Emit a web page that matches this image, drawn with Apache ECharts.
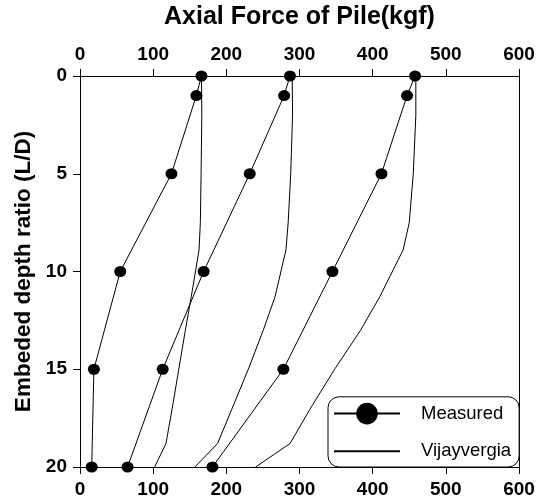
<!DOCTYPE html>
<html>
<head>
<meta charset="utf-8">
<script src="https://cdn.jsdelivr.net/npm/echarts@6/dist/echarts.min.js"></script>
<style>
  html, body { margin: 0; padding: 0; background: #fff; }
  #chart { width: 539px; height: 503px; }
</style>
</head>
<body>
<div id="chart"></div>
<script>
// ---- data ----
const xTicks = [0, 100, 200, 300, 400, 500, 600];
const yTicks = [0, 5, 10, 15, 20];
const measuredDepth = [0, 1, 5, 10, 15, 20];
const measured1 = [166, 159, 125, 55, 19, 16];
const measured2 = [287, 279, 232, 169, 113, 65];
const measured3 = [458, 447, 412, 345, 278, 181];

const vijayDepth = [0, 2, 5, 7.5, 8.9, 11.3, 13, 15, 17, 18.8, 20];
const vijay1 = [166, 166.5, 165.5, 164.5, 162.7, 152, 144, 135, 126, 117.5, 102];
const vijay2 = [290, 290.5, 288, 284.5, 281.5, 266.5, 250.5, 230, 208, 188, 157];
const vijay3 = [459, 459, 455.5, 450, 441.6, 409.6, 383.5, 348, 315, 287, 240];

const seriesNames = ['Measured', 'Vijayvergia'];
const xTitle = 'Axial Force of Pile(kgf)';
const yTitle = 'Embeded depth ratio (L/D)';

// ---- chart ----
const FONT = '"Liberation Sans", Arial, sans-serif';
const pair = (xs, ys) => xs.map((x, i) => [x, ys[i]]);

function measuredSeries(vals) {
  return {
    name: seriesNames[0], type: 'line', xAxisIndex: 0, yAxisIndex: 0,
    data: pair(vals, measuredDepth),
    symbol: 'circle', symbolSize: [12, 11], showSymbol: true,
    itemStyle: { color: '#000' },
    lineStyle: { color: '#000', width: 1 },
    emphasis: { disabled: true }, animation: false, z: 3
  };
}
function vijaySeries(vals) {
  return {
    name: seriesNames[1], type: 'line', xAxisIndex: 0, yAxisIndex: 0,
    data: pair(vals, vijayDepth),
    symbol: 'circle', showSymbol: false,
    itemStyle: { color: 'rgba(0,0,0,0)' },
    lineStyle: { color: '#000', width: 1 },
    emphasis: { disabled: true }, animation: false, z: 2
  };
}

const xMin = xTicks[0], xMax = xTicks[xTicks.length - 1], xInt = xTicks[1] - xTicks[0];
const yMin = yTicks[0], yMax = yTicks[yTicks.length - 1], yInt = yTicks[1] - yTicks[0];

const axisCommon = {
  type: 'value',
  axisLine: { show: true, onZero: false, lineStyle: { color: '#000', width: 1 } },
  splitLine: { show: false },
};
const labelStyle = { color: '#000', fontSize: 19, fontWeight: 'bold', fontFamily: FONT };

const chart = echarts.init(document.getElementById('chart'), null, { renderer: 'canvas' });
chart.setOption({
  animation: false,
  backgroundColor: '#fff',
  textStyle: { fontFamily: FONT },
  grid: { left: 80, right: 20, top: 76, bottom: 36, containLabel: false, outerBoundsMode: 'none' },
  xAxis: [
    Object.assign({}, axisCommon, {
      position: 'top', min: xMin, max: xMax, interval: xInt,
      name: xTitle, nameLocation: 'middle', nameGap: 46,
      nameTextStyle: { color: '#000', fontSize: 25, fontWeight: 'bold', fontFamily: FONT },
      axisTick: { show: true, inside: false, length: 7, lineStyle: { color: '#000' } },
      axisLabel: Object.assign({ margin: 12 }, labelStyle)
    }),
    Object.assign({}, axisCommon, {
      position: 'bottom', min: xMin, max: xMax, interval: xInt,
      axisTick: { show: true, inside: false, length: 7, lineStyle: { color: '#000' } },
      axisLabel: Object.assign({ margin: 13 }, labelStyle)
    })
  ],
  yAxis: [
    Object.assign({}, axisCommon, {
      position: 'left', inverse: true, min: yMin, max: yMax, interval: yInt,
      name: yTitle, nameLocation: 'middle', nameGap: 45,
      nameTextStyle: { color: '#000', fontSize: 22.5, fontWeight: 'bold', fontFamily: FONT },
      axisTick: { show: true, inside: false, length: 7, lineStyle: { color: '#000' } },
      axisLabel: Object.assign({ margin: 13 }, labelStyle)
    }),
    Object.assign({}, axisCommon, {
      position: 'right', inverse: true, min: yMin, max: yMax, interval: yInt,
      axisTick: { show: false }, axisLabel: { show: false }
    })
  ],
  legend: {
    orient: 'vertical',
    left: 328, bottom: 36,
    data: seriesNames,
    itemWidth: 66, itemHeight: 27, itemGap: 16,
    padding: [6, 8, 5, 5],
    borderColor: '#000', borderWidth: 1, borderRadius: 11,
    backgroundColor: '#fff',
    selectedMode: false,
    textStyle: { color: '#000', fontSize: 18.5, fontFamily: FONT, padding: [0, 0, 0, 16] }
  },
  series: [
    measuredSeries(measured1), measuredSeries(measured2), measuredSeries(measured3),
    vijaySeries(vijay1), vijaySeries(vijay2), vijaySeries(vijay3)
  ]
});
</script>
</body>
</html>
